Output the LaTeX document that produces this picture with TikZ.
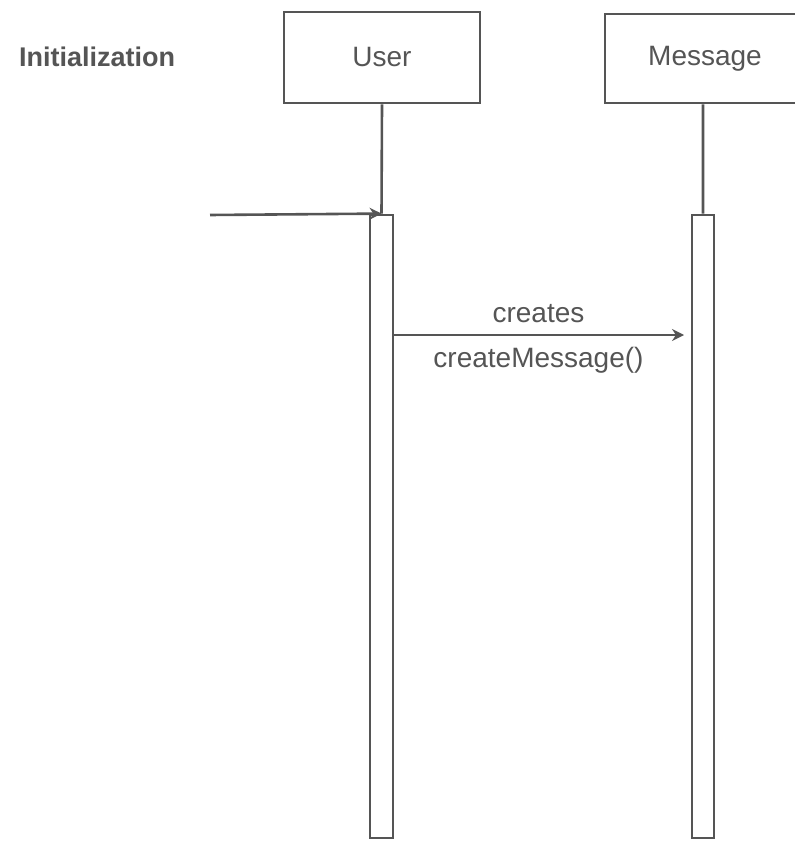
\documentclass[tikz,border=0pt]{standalone}
\usepackage{fontspec}
\setmainfont{Liberation Sans}
\usetikzlibrary{arrows.meta,positioning}
\definecolor{ink}{HTML}{555555}

\begin{document}
\begin{tikzpicture}[x=0.5pt,y=-0.5pt,
		every node/.style={text=ink, font=\fontsize{14}{16}\selectfont},
		lifebox/.style={draw=ink, line width=1.3pt, inner sep=0pt},
		actbar/.style={draw=ink, line width=1.4pt, minimum width=11.5pt, minimum height=311.5pt, inner sep=0pt},
		msgarrow/.style={draw=ink, line width=1.3pt, -{Stealth[length=6pt,width=6pt]}}]
		\useasboundingbox (0,0) rectangle (794,844);
		\draw (12,57) node [anchor=west, font=\bfseries\fontsize{13.5}{16}\selectfont] (title) {Initialization};
		\draw (382,57.5) node [lifebox, minimum width=98pt, minimum height=45.5pt] (user) {User};
		\draw (705,58.5) node [lifebox, minimum width=100pt, minimum height=44.5pt] (msg) {Message};
		\draw (381.5,526.5) node [actbar] (userbar) {};
		\draw (703,526.5) node [actbar, minimum width=11pt] (msgbar) {};
		\coordinate (start) at (210,215);
		\coordinate (from) at (393,335);
		\coordinate (to) at (684,335);

		\draw [ink, line width=1.3pt]
			(user.south) -- (userbar.north)
			(msgbar.north |- msg.south) -- (msgbar.north)
		;
		\draw
			(start) edge [msgarrow] (userbar.north)
			(from) edge [msgarrow] node [above=2pt] {creates} node [below=2pt] {createMessage()} (to)
		;
	\end{tikzpicture}
\end{document}
